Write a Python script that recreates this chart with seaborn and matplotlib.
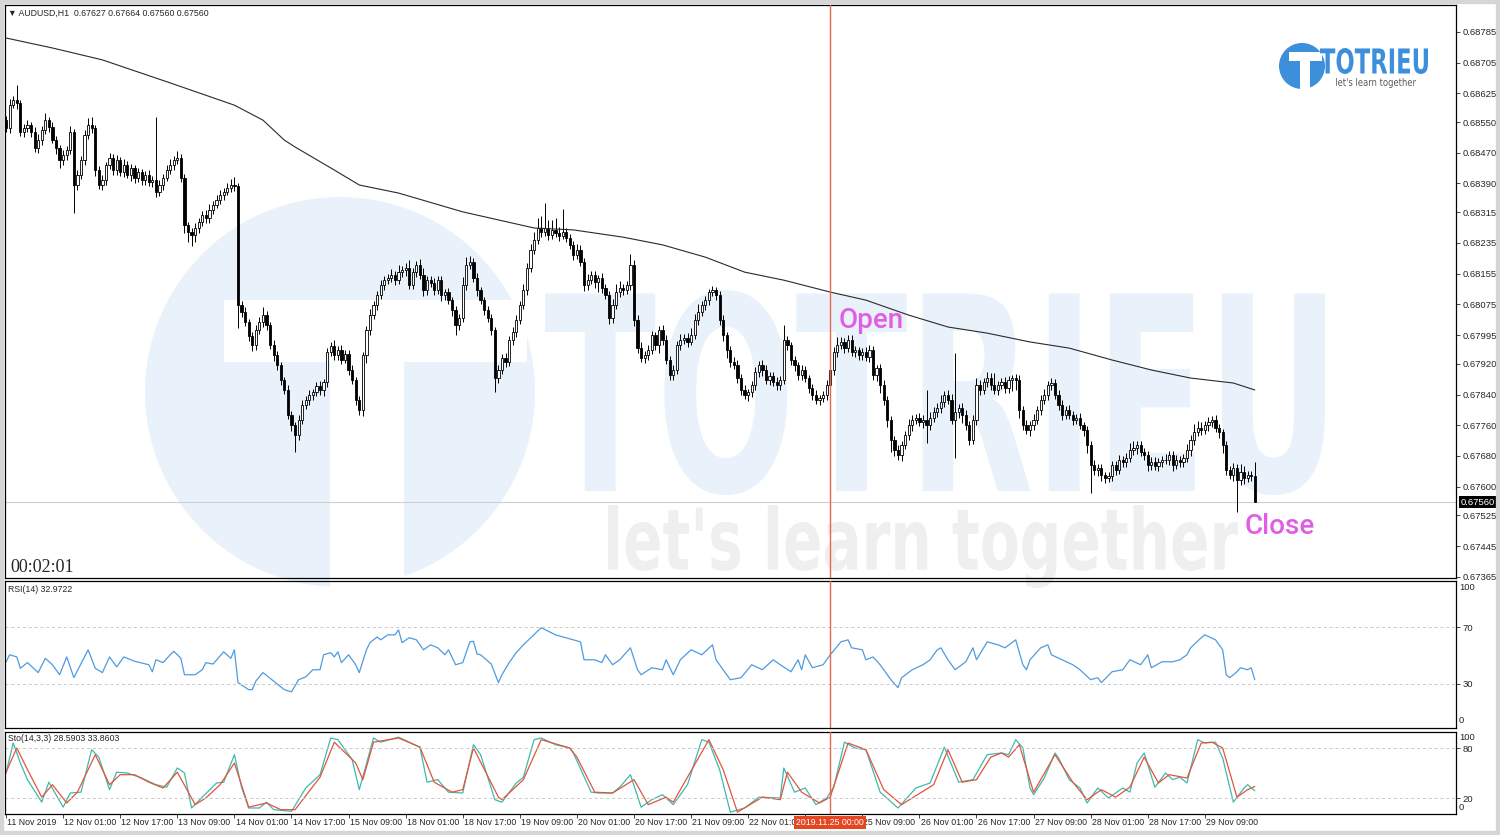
import numpy as np
import pandas as pd
import matplotlib
matplotlib.use("Agg")
import matplotlib.pyplot as plt
import seaborn as sns
from matplotlib.patches import Circle, Rectangle, PathPatch
from matplotlib.textpath import TextPath
from matplotlib.font_manager import FontProperties
from matplotlib.transforms import Affine2D

sns.set_style("white")
plt.rcParams["font.family"] = ["Liberation Sans", "DejaVu Sans"]

# AUDUSD H1, 11 Nov 2019 09:00 .. 29 Nov 2019 23:00 (351 bars), prices in 1e-5
first_open = 68555
closes = [
    68534, 68594, 68607, 68600, 68524, 68534, 68542, 68524, 68482, 68503,  # 0
    68529, 68555, 68537, 68503, 68482, 68451, 68464, 68477, 68524, 68386,  # 10
    68412, 68451, 68516, 68542, 68534, 68425, 68386, 68399, 68438, 68456,  # 20
    68425, 68451, 68420, 68438, 68412, 68430, 68404, 68420, 68399, 68412,  # 30
    68394, 68399, 68368, 68386, 68404, 68425, 68438, 68451, 68456, 68404,  # 40
    68282, 68263, 68256, 68274, 68289, 68308, 68300, 68321, 68334, 68347,  # 50
    68360, 68368, 68378, 68386, 68383, 68073, 68055, 68029, 67992, 67969,  # 60
    68008, 68029, 68047, 68021, 67969, 67943, 67917, 67878, 67852, 67787,  # 70
    67760, 67734, 67774, 67813, 67826, 67839, 67846, 67862, 67852, 67872,  # 80
    67951, 67966, 67943, 67956, 67930, 67945, 67904, 67878, 67826, 67800,  # 90
    67943, 68008, 68047, 68073, 68099, 68125, 68138, 68144, 68151, 68138,  # 100
    68159, 68164, 68170, 68125, 68159, 68177, 68151, 68112, 68138, 68130,  # 110
    68112, 68138, 68099, 68107, 68086, 68060, 68021, 68039, 68125, 68177,  # 120
    68185, 68144, 68112, 68086, 68060, 68039, 68008, 67883, 67904, 67935,  # 130
    67925, 67982, 68003, 68034, 68073, 68112, 68170, 68217, 68243, 68274,  # 140
    68263, 68274, 68256, 68269, 68261, 68253, 68263, 68248, 68230, 68204,  # 150
    68217, 68185, 68125, 68138, 68151, 68133, 68144, 68117, 68099, 68039,  # 160
    68073, 68107, 68117, 68112, 68125, 68177, 68034, 67961, 67935, 67943,  # 170
    67956, 67995, 67969, 68008, 67982, 67930, 67891, 67904, 67969, 67982,  # 180
    67987, 67977, 67995, 68034, 68055, 68073, 68086, 68107, 68112, 68099,  # 190
    68034, 67995, 67956, 67925, 67917, 67883, 67852, 67839, 67846, 67865,  # 200
    67899, 67917, 67904, 67878, 67888, 67872, 67865, 67878, 67982, 67969,  # 210
    67930, 67917, 67891, 67904, 67883, 67857, 67839, 67826, 67831, 67839,  # 220
    67865, 67904, 67951, 67969, 67977, 67961, 67982, 67951, 67956, 67943,  # 230
    67951, 67938, 67956, 67891, 67909, 67865, 67826, 67774, 67721, 67695,  # 240
    67682, 67708, 67734, 67760, 67774, 67779, 67768, 67774, 67760, 67779,  # 250
    67794, 67805, 67820, 67839, 67826, 67774, 67794, 67805, 67787, 67760,  # 260
    67721, 67774, 67865, 67852, 67872, 67883, 67865, 67852, 67865, 67872,  # 270
    67857, 67878, 67883, 67878, 67800, 67760, 67747, 67760, 67774, 67800,  # 280
    67826, 67839, 67865, 67870, 67839, 67813, 67787, 67800, 67787, 67774,  # 290
    67779, 67760, 67747, 67708, 67656, 67643, 67648, 67630, 67622, 67628,  # 300
    67656, 67643, 67669, 67664, 67674, 67695, 67700, 67708, 67690, 67682,  # 310
    67656, 67664, 67654, 67664, 67669, 67669, 67682, 67656, 67669, 67664,  # 320
    67674, 67695, 67721, 67742, 67753, 67747, 67760, 67768, 67774, 67753,  # 330
    67742, 67708, 67643, 67630, 67648, 67617, 67638, 67622, 67630, 67627,  # 340
    67560,                                                                 # 350
]
up_wick = [
    12, 15, 10, 40, 8, 10, 14, 9, 12, 15,
    10, 18, 8, 12, 10, 9, 14, 11, 16, 8,
    12, 10, 14, 18, 20, 8, 10, 12, 9, 14,
    10, 12, 8, 15, 10, 12, 9, 11, 8, 10,
    12, 10, 164, 14, 10, 12, 15, 10, 18, 12,
    10, 8, 12, 14, 10, 9, 12, 15, 10, 12,
    14, 10, 12, 16, 20, 8, 10, 12, 9, 10,
    14, 12, 20, 10, 8, 12, 10, 9, 8, 12,
    10, 8, 12, 14, 10, 12, 9, 10, 12, 8,
    10, 12, 15, 10, 14, 12, 10, 12, 8, 10,
    8, 10, 15, 12, 10, 14, 12, 10, 15, 12,
    18, 10, 14, 20, 12, 10, 15, 18, 10, 12,
    14, 10, 12, 8, 10, 9, 12, 10, 20, 22,
    15, 10, 12, 8, 9, 10, 12, 8, 14, 10,
    12, 10, 14, 12, 10, 15, 12, 14, 20, 25,
    30, 65, 20, 25, 30, 15, 60, 12, 10, 9,
    14, 12, 10, 15, 12, 10, 8, 14, 12, 10,
    15, 20, 18, 10, 12, 30, 14, 12, 16, 10,
    12, 10, 8, 10, 12, 14, 10, 12, 10, 15,
    12, 14, 18, 15, 20, 10, 12, 8, 10, 9,
    10, 12, 8, 10, 12, 14, 10, 12, 9, 10,
    12, 10, 14, 12, 12, 10, 14, 10, 39, 10,
    8, 10, 9, 12, 10, 8, 10, 12, 9, 10,
    12, 15, 14, 20, 12, 10, 14, 12, 10, 9,
    10, 12, 14, 10, 8, 10, 12, 9, 10, 12,
    14, 12, 10, 15, 12, 10, 14, 12, 78, 15,
    14, 12, 20, 10, 12, 15, 154, 10, 12, 14,
    12, 14, 18, 12, 10, 15, 12, 30, 10, 12,
    14, 10, 8, 10, 12, 10, 14, 12, 15, 10,
    12, 15, 10, 12, 10, 14, 12, 10, 12, 9,
    10, 12, 8, 10, 12, 14, 10, 12, 9, 10,
    12, 10, 14, 12, 15, 20, 18, 12, 10, 12,
    10, 12, 14, 10, 12, 15, 12, 10, 14, 12,
    12, 15, 14, 20, 18, 15, 12, 14, 10, 12,
    10, 8, 12, 10, 14, 12, 20, 15, 12, 10,
    37,
]
dn_wick = [
    10, 12, 8, 15, 10, 12, 9, 14, 10, 12,
    14, 10, 12, 8, 15, 20, 14, 12, 10, 73,
    12, 10, 14, 9, 12, 15, 10, 12, 14, 10,
    12, 14, 10, 12, 9, 15, 12, 10, 14, 12,
    10, 12, 14, 10, 12, 8, 10, 12, 9, 10,
    20, 25, 30, 18, 12, 10, 14, 12, 10, 9,
    10, 12, 8, 10, 12, 60, 14, 10, 12, 15,
    12, 10, 14, 12, 10, 15, 12, 14, 10, 12,
    15, 44, 12, 12, 10, 14, 12, 10, 12, 15,
    12, 10, 14, 12, 10, 9, 12, 10, 14, 12,
    15, 20, 12, 10, 14, 10, 12, 9, 10, 12,
    10, 12, 14, 10, 9, 12, 10, 14, 12, 10,
    12, 10, 14, 12, 10, 15, 25, 12, 10, 12,
    10, 12, 14, 10, 12, 10, 14, 37, 12, 10,
    12, 10, 14, 12, 10, 9, 12, 10, 12, 10,
    12, 10, 14, 12, 10, 12, 9, 10, 12, 14,
    12, 10, 14, 12, 10, 15, 25, 12, 10, 14,
    12, 10, 14, 12, 10, 12, 15, 12, 10, 14,
    12, 10, 14, 20, 12, 10, 14, 12, 10, 12,
    10, 12, 9, 10, 12, 10, 14, 12, 10, 12,
    14, 15, 20, 12, 10, 14, 12, 10, 15, 12,
    14, 12, 15, 10, 12, 10, 14, 12, 10, 14,
    12, 15, 14, 12, 10, 12, 14, 10, 12, 10,
    12, 10, 14, 12, 10, 12, 9, 10, 12, 14,
    12, 10, 14, 12, 15, 20, 14, 18, 30, 15,
    12, 14, 10, 12, 15, 12, 10, 14, 47, 12,
    10, 12, 14, 12, 10, 12, 100, 14, 20, 12,
    12, 10, 14, 12, 10, 12, 14, 10, 12, 10,
    12, 14, 30, 25, 20, 12, 10, 14, 12, 10,
    12, 10, 14, 12, 10, 12, 14, 10, 12, 14,
    12, 10, 14, 20, 73, 12, 15, 14, 12, 10,
    14, 12, 10, 12, 14, 10, 12, 14, 10, 12,
    14, 12, 10, 12, 14, 10, 12, 14, 10, 12,
    12, 10, 14, 12, 10, 12, 10, 14, 12, 10,
    14, 20, 12, 10, 14, 83, 12, 14, 10, 12,
    0,
]

# moving average line
ma_bar = [0, 13, 27, 46, 64, 72, 78, 81, 92, 99, 110, 128, 148, 159, 173, 184,
          196, 207, 218, 231, 241, 253, 264, 275, 287, 298, 310, 321, 332, 344, 350]
ma_val = [68769, 68743, 68712, 68652, 68594, 68555, 68503, 68485, 68425, 68386,
          68365, 68316, 68274, 68269, 68250, 68230, 68198, 68159, 68138, 68107,
          68086, 68047, 68016, 68000, 67977, 67961, 67930, 67904, 67883, 67870, 67852]

# RSI(14)
rsi_bar = [0, 1, 3, 4, 6, 9, 11, 13, 15, 17, 19, 23, 25, 27, 29, 31, 33, 36, 40, 41,
           42, 44, 46, 47, 49, 50, 53, 55, 56, 58, 61, 63, 64, 65, 68, 69, 70, 72, 75, 77,
           78, 80, 82, 84, 86, 88, 89, 91, 92, 93, 94, 96, 98, 99, 101, 102, 104, 105, 107, 109,
           110, 111, 113, 115, 117, 119, 121, 123, 124, 126, 128, 130, 131, 132, 133, 136, 138, 139,
           141, 143,
           145, 150, 154, 159, 161, 162, 165, 167, 168, 170, 172, 175, 177, 178, 181, 184, 185, 187, 189, 192,
           195, 198, 199, 201, 203, 206, 209, 212, 215, 217, 220, 222, 223, 224, 226, 229, 231, 234, 236, 237,
           240, 241, 243, 245, 247, 248, 250, 251, 254, 257, 259, 261, 262, 264, 266, 269, 271, 272, 275, 278,
           280, 283, 285, 286, 287, 290, 292, 293, 296, 299, 301, 304, 306, 307, 310, 313, 315, 318, 320, 321,
           324, 327, 329, 331, 332, 335, 336, 339, 341, 342, 343, 345, 346, 348, 349, 350]
rsi_val = [45.6, 50.5, 49, 41, 45, 38, 48, 43.5, 36.5, 49, 34.5, 54, 41, 38, 49, 42, 49, 46, 43.5, 38.6,
           47, 45, 50.5, 53, 48, 36.5, 36.5, 40, 45, 44, 52.6, 48, 54, 31, 26, 26, 32, 38, 32, 28,
           26, 24.5, 33, 35, 40, 40, 50.5, 52, 49, 52.6, 45, 50.5, 43.5, 38, 54, 59, 63, 61, 64.5, 64.5,
           68, 59, 62.5, 61, 54, 57.5, 55.4, 50.5, 54, 43.5, 45, 59.6, 60, 51, 50.5, 44, 31, 36.5,
           45, 52,
           57.5, 69.5, 64.5, 61, 59.6, 47, 47, 45, 50.5, 43.5, 47, 55.4, 40, 36.5, 41.4, 40, 47, 36.5, 47, 54,
           50.5, 57.5, 47, 40, 33, 34.4, 43.5, 40, 47, 43.5, 38.6, 47, 40, 50.5, 41.4, 43.5, 50.5, 59.6, 61, 55.4,
           54, 47, 49, 43.5, 36.5, 33, 27.4, 34.4, 40, 43.5, 47, 54, 55.4, 47, 40, 45.6, 55.4, 47, 59.6, 57.5,
           55.4, 61, 43.5, 40, 47, 55.4, 57.5, 50.5, 47, 43.5, 40, 33, 34.4, 31, 38.6, 40, 47, 43.5, 50.5, 41.4,
           45.6, 45.6, 47, 50.5, 55.4, 62.5, 64.5, 61, 54, 36.5, 34.4, 38.6, 41.4, 40, 41.4, 32.97]

# Stochastic(14,3,3): main and signal
sto_main_bar = [0, 2, 4, 6, 10, 12, 16, 18, 21, 24, 26, 29, 31, 34, 38, 42, 45, 48, 50, 52,
                55, 59, 61, 64, 66, 68, 71, 73, 75, 80, 84, 88, 91, 93, 97, 99, 103, 105, 110, 116,
                118, 121, 124, 128, 131, 133, 137, 139, 143, 145, 148, 150, 154, 158, 159, 164, 166, 170, 172, 175,
                178, 181, 184, 187, 191, 195, 197, 200, 203, 207, 211, 217, 218, 221, 224, 227, 230, 232, 235, 238,
                241, 245, 250, 255, 259, 263, 267, 271, 275, 279, 281, 283, 285, 287, 288, 291, 294, 295, 298, 301,
                303, 306, 309, 313, 315, 317, 319, 322, 325, 327, 329, 331, 334, 336, 339, 341, 344, 347, 348, 350]
sto_main = [50, 86, 62, 42, 15, 39, 9, 26, 27, 78, 69, 30, 51, 50, 44, 36, 33, 56, 50, 8,
            21, 38, 39, 72, 33, 8, 8, 15, 6, 4, 32, 48, 92, 90, 66, 30, 92, 87, 93, 81,
            39, 42, 27, 26, 84, 72, 18, 15, 38, 45, 90, 92, 84, 80, 74, 27, 26, 26, 33, 48,
            9, 18, 24, 12, 36, 90, 87, 54, 3, 8, 21, 20, 56, 27, 32, 12, 20, 33, 87, 80,
            78, 27, 8, 32, 38, 81, 39, 42, 72, 74, 72, 90, 80, 32, 24, 44, 74, 68, 42, 32,
            14, 32, 20, 32, 27, 62, 74, 33, 50, 42, 45, 38, 90, 86, 87, 68, 15, 32, 36, 28.59]
sto_sig_bar = [0, 3, 6, 10, 13, 17, 20, 25, 29, 32, 36, 40, 44, 48, 53, 56, 60, 64, 68, 73,
               77, 81, 88, 92, 98, 100, 103, 110, 116, 120, 125, 128, 131, 138, 139, 145, 150, 158, 160, 165,
               170, 176, 180, 185, 187, 197, 201, 205, 212, 217, 219, 223, 228, 231, 236, 241, 246, 251, 260, 264,
               268, 272, 276, 279, 281, 284, 288, 294, 299, 303, 307, 311, 315, 319, 323, 326, 331, 335, 338, 341,
               345, 348, 350]
sto_sig = [51, 80, 54, 21, 36, 14, 27, 72, 36, 48, 48, 39, 32, 51, 12, 20, 36, 62, 9, 14,
           6, 6, 45, 87, 62, 42, 87, 92, 81, 39, 27, 30, 80, 21, 18, 42, 90, 80, 69, 27,
           26, 42, 12, 21, 15, 90, 54, 3, 21, 18, 51, 27, 14, 21, 86, 78, 30, 12, 36, 78,
           39, 42, 69, 74, 69, 84, 27, 72, 39, 18, 30, 21, 33, 69, 38, 48, 44, 86, 87, 80,
           21, 30, 33.86]

price_ticks = [0.68785, 0.68705, 0.68625, 0.68550, 0.68470, 0.68390, 0.68315, 0.68235,
               0.68155, 0.68075, 0.67995, 0.67920, 0.67840, 0.67760, 0.67680, 0.67600,
               0.67525, 0.67445, 0.67365]
time_ticks = list(range(0, 337, 16))
time_labels = ["11 Nov 2019", "12 Nov 01:00", "12 Nov 17:00", "13 Nov 09:00", "14 Nov 01:00",
               "14 Nov 17:00", "15 Nov 09:00", "18 Nov 01:00", "18 Nov 17:00", "19 Nov 09:00",
               "20 Nov 01:00", "20 Nov 17:00", "21 Nov 09:00", "22 Nov 01:00", "22 Nov 17:00",
               "25 Nov 09:00", "26 Nov 01:00", "26 Nov 17:00", "27 Nov 09:00", "28 Nov 01:00",
               "28 Nov 17:00", "29 Nov 09:00"]
open_bar = 231          # 2019.11.25 00:00
last_price = 0.67560

c = np.array(closes) / 1e5
o = np.concatenate([[first_open / 1e5], c[:-1]])
hi = np.maximum(o, c) + np.array(up_wick) / 1e5
lo = np.minimum(o, c) - np.array(dn_wick) / 1e5
df = pd.DataFrame({"bar": np.arange(len(c)), "open": o, "high": hi, "low": lo, "close": c})

W, H = 1500, 835
fig = plt.figure(figsize=(W / 100, H / 100), dpi=100)
fig.patch.set_facecolor("white")


def box(x0, y0, x1, y1):
    return [x0 / W, 1 - y1 / H, (x1 - x0) / W, (y1 - y0) / H]


ax = fig.add_axes(box(5, 5, 1456, 578))
ax_rsi = fig.add_axes(box(5, 581, 1456, 728), sharex=ax)
ax_sto = fig.add_axes(box(5, 732, 1456, 814), sharex=ax)
for a in (ax, ax_rsi, ax_sto):
    a.set_facecolor("none")
    for s in a.spines.values():
        s.set_color("black")
        s.set_linewidth(0.9)

# watermark + logo (pixel coords, y up)
pix = Affine2D().scale(1 / W, 1 / H) + fig.transFigure


def Y(y):
    return H - y


def fit_text(s, x0, y0, x1, y1, color, z=-4, weight="bold"):
    tp = TextPath((0, 0), s, size=100, prop=FontProperties(family="DejaVu Sans", weight=weight))
    bb = tp.get_extents()
    t = (Affine2D().translate(-bb.x0, -bb.y0)
         .scale((x1 - x0) / bb.width, (y1 - y0) / bb.height).translate(x0, Y(y1)))
    fig.add_artist(PathPatch(t.transform_path(tp), transform=pix, fc=color, ec="none", zorder=z))


wm_blue = "#e9f2fb"
fig.add_artist(Circle((340, Y(392)), 195, transform=pix, fc=wm_blue, ec="none", zorder=-5))
fig.add_artist(Rectangle((224, Y(362)), 303, 62, transform=pix, fc="white", ec="none", zorder=-4))
fig.add_artist(Rectangle((330, Y(588)), 74, 226, transform=pix, fc="white", ec="none", zorder=-4))
fit_text("TOTRIEU", 545, 290, 1325, 495, wm_blue)
fit_text("let's learn together", 608, 505, 1238, 588, "#efefef")

logo_blue = "#3d8fdc"
fig.add_artist(Circle((1302, Y(66)), 23, transform=pix, fc=logo_blue, ec="none", zorder=5))
fig.add_artist(Rectangle((1289, Y(61)), 33, 9, transform=pix, fc="white", ec="none", zorder=6))
fig.add_artist(Rectangle((1300, Y(89)), 10, 28, transform=pix, fc="white", ec="none", zorder=6))
fit_text("TOTRIEU", 1320, 48, 1428, 74, logo_blue, z=6)
fit_text("let's learn together", 1336, 78, 1416, 88, "#555555", z=6, weight="normal")

# candles
bull = df["close"] >= df["open"]
ax.vlines(df["bar"], df["low"], df["high"], color="black", lw=0.7, zorder=2)
body = (df["close"] - df["open"]).abs().clip(lower=0.000015)
ax.bar(df["bar"], body, bottom=np.minimum(df["open"], df["close"]), width=0.62,
       color=np.where(bull, "white", "black"), edgecolor="black", linewidth=0.6, zorder=3)
sns.lineplot(x=ma_bar, y=np.array(ma_val) / 1e5, ax=ax, color="#2a2a2a", lw=0.8, zorder=4)
ax.axhline(last_price, color="#cfcfcf", lw=0.8, zorder=1)

ax.set_xlim(-0.3, 406.4)
ax.set_ylim(0.67362, 0.68855)
ax.yaxis.tick_right()
ax.set_yticks(price_ticks)
ax.set_yticklabels([f"{v:.5f}" for v in price_ticks])
ax.tick_params(axis="y", direction="out", length=3, width=0.6, labelsize=6.8, pad=1.5, right=True, left=False)
ax.set_xlabel("")
ax.set_ylabel("")

ax.annotate("\u25bc AUDUSD,H1  0.67627 0.67664 0.67560 0.67560", xy=(0, 1), xycoords="axes fraction",
            xytext=(2, -6), textcoords="offset points", ha="left", va="center", fontsize=6.3)
ax.annotate(f"{last_price:.5f}", xy=(1, last_price), xycoords=("axes fraction", "data"),
            xytext=(3, 0), textcoords="offset points", ha="left", va="center", fontsize=6.8,
            color="white", bbox=dict(boxstyle="square,pad=0.15", fc="black", ec="none"),
            annotation_clip=False, zorder=10)
ax.text((870 - 4) / 3.57, 0.68034, "Open", ha="center", va="center", fontsize=20,
        family=["Roboto", "DejaVu Sans"], weight="medium", color="#e05ee6", zorder=6)
ax.text((1278 - 4) / 3.57, 0.67495, "Close", ha="center", va="center", fontsize=20,
        family=["Roboto", "DejaVu Sans"], weight="medium", color="#e05ee6", zorder=6,
        clip_on=False)
fig.text(10 / W, 1 - 568 / H, "00:02:01", family=["Liberation Serif", "DejaVu Serif"],
         fontsize=13, ha="left", va="center")

# RSI panel
sns.lineplot(x=rsi_bar, y=rsi_val, ax=ax_rsi, color="#4f9be0", lw=0.9)
ax_rsi.set_ylim(-0.9, 102.3)
for lv in (70, 30):
    ax_rsi.axhline(lv, color="#c8c8c8", lw=0.7, ls=(0, (3, 3)))
ax_rsi.yaxis.tick_right()
ax_rsi.set_yticks([30, 70])
ax_rsi.set_yticklabels(["30", "70"])
ax_rsi.tick_params(axis="y", direction="out", length=3, width=0.6, labelsize=6.8, pad=1.5, right=True, left=False)
ax_rsi.text(1.002, 0.985, "100", transform=ax_rsi.transAxes, ha="left", va="top", fontsize=6.8)
ax_rsi.text(1.002, 0.02, "0", transform=ax_rsi.transAxes, ha="left", va="bottom", fontsize=6.8)
ax_rsi.annotate("RSI(14) 32.9722", xy=(0, 1), xycoords="axes fraction", xytext=(2, -6),
                textcoords="offset points", ha="left", va="center", fontsize=6.3)
ax_rsi.set_xlabel("")
ax_rsi.set_ylabel("")

# Stochastic panel
sns.lineplot(x=sto_main_bar, y=sto_main, ax=ax_sto, color="#3fb8b0", lw=0.9)
sns.lineplot(x=sto_sig_bar, y=sto_sig, ax=ax_sto, color="#e2553c", lw=0.9)
ax_sto.set_ylim(0.8, 99.2)
for lv in (80, 20):
    ax_sto.axhline(lv, color="#c8c8c8", lw=0.7, ls=(0, (3, 3)))
ax_sto.yaxis.tick_right()
ax_sto.set_yticks([20, 80])
ax_sto.set_yticklabels(["20", "80"])
ax_sto.tick_params(axis="y", direction="out", length=3, width=0.6, labelsize=6.8, pad=1.5, right=True, left=False)
ax_sto.text(1.002, 0.99, "100", transform=ax_sto.transAxes, ha="left", va="top", fontsize=6.8)
ax_sto.text(1.002, 0.02, "0", transform=ax_sto.transAxes, ha="left", va="bottom", fontsize=6.8)
ax_sto.annotate("Sto(14,3,3) 28.5903 33.8603", xy=(0, 1), xycoords="axes fraction", xytext=(2, -5),
                textcoords="offset points", ha="left", va="center", fontsize=6.3)
ax_sto.set_xlabel("")
ax_sto.set_ylabel("")

# time axis; the label under the marker box is hidden by it, as in the terminal
ax_sto.set_xticks(time_ticks)
ax_sto.tick_params(axis="x", direction="out", length=3, width=0.6, labelbottom=False, bottom=True)
for a in (ax, ax_rsi):
    a.tick_params(axis="x", bottom=False, labelbottom=False)
for t, lab in zip(time_ticks, time_labels):
    if abs(t - open_bar) < 8:
        continue
    ax_sto.annotate(lab, xy=(t, 0), xycoords=("data", "axes fraction"), xytext=(0.8, -6),
                    textcoords="offset points", ha="left", va="center", fontsize=6.3,
                    annotation_clip=False)
ax_sto.annotate("2019.11.25 00:00", xy=(open_bar, 0), xycoords=("data", "axes fraction"),
                xytext=(0, -6), textcoords="offset points", ha="center", va="center",
                fontsize=6.3, color="white", zorder=10, annotation_clip=False,
                bbox=dict(boxstyle="square,pad=0.25", fc="#e5461f", ec="none"))

# vertical marker at the open bar
for a in (ax, ax_rsi, ax_sto):
    a.axvline(open_bar, color="#e06a50", lw=1.0, zorder=5)

fig.add_artist(Rectangle((0, 0), 1, 1, transform=fig.transFigure, fill=False,
                         ec="#d6d6d6", lw=6, zorder=20))

fig.savefig("out.png", dpi=100)
